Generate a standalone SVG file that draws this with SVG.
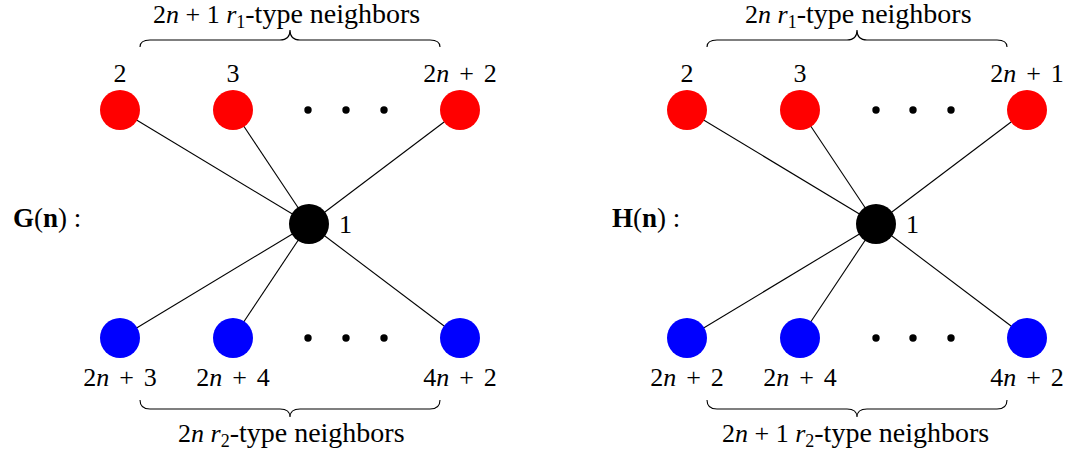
<svg xmlns="http://www.w3.org/2000/svg" width="1069" height="455" viewBox="0 0 1069 455">
<style>
text{font-family:"Liberation Serif","Times New Roman",serif;font-size:26px;fill:#000}
.t{font-size:28px}
.m{text-anchor:middle;word-spacing:3.5px}
.gl{font-size:27px}
.i{font-style:italic}
.b{font-weight:bold}
.sub{font-size:18px}
.edge{stroke:#000;stroke-width:1.1;fill:none}
.brace{stroke:#000;stroke-width:1.1;fill:none}
.red{fill:#ff0000}
.blue{fill:#0000ff}
.ctr{fill:#000}
.dot{fill:#000}
</style>
<rect width="1069" height="455" fill="#fff"/>
<g id="connectors">
<line class="edge" x1="309" y1="224" x2="120" y2="110"/>
<line class="edge" x1="309" y1="224" x2="233" y2="110"/>
<line class="edge" x1="309" y1="224" x2="460" y2="110"/>
<line class="edge" x1="309" y1="224" x2="120" y2="338"/>
<line class="edge" x1="309" y1="224" x2="233" y2="338"/>
<line class="edge" x1="309" y1="224" x2="460" y2="338"/>
<line class="edge" x1="876" y1="224" x2="687" y2="110"/>
<line class="edge" x1="876" y1="224" x2="800" y2="110"/>
<line class="edge" x1="876" y1="224" x2="1027" y2="110"/>
<line class="edge" x1="876" y1="224" x2="687" y2="338"/>
<line class="edge" x1="876" y1="224" x2="800" y2="338"/>
<line class="edge" x1="876" y1="224" x2="1027" y2="338"/>
</g>
<!-- Left graph G(n) -->
<g id="G-label"><text class="gl" x="13" y="227"><tspan class="b">G</tspan>(<tspan class="b">n</tspan>) :</text></g>
<g id="G-top-brace">
<path class="brace" d="M140,47 Q140,40 150,40 L280,40 Q290,40 290,30 Q290,40 300,40 L430,40 Q440,40 440,47"/>
<text x="153" y="23">2<tspan class="i">n</tspan> + 1 <tspan class="i">r</tspan><tspan class="sub" dy="5">1</tspan><tspan class="t" dy="-5">-type neighbors</tspan></text>
</g>
<g id="G-bottom-brace">
<path class="brace" d="M140,400 Q140,409 150,409 L280,409 Q290,409 290,417 Q290,409 300,409 L430,409 Q440,409 440,400"/>
<text x="178" y="442">2<tspan class="i">n</tspan> <tspan class="i">r</tspan><tspan class="sub" dy="5">2</tspan><tspan class="t" dy="-5">-type neighbors</tspan></text>
</g>
<g id="G-n1"><circle class="ctr" cx="309" cy="224" r="20"/><text x="339" y="233">1</text></g>
<g id="G-n2"><circle class="red" cx="120" cy="110" r="20"/><text class="m" x="120" y="82">2</text></g>
<g id="G-n3"><circle class="red" cx="233" cy="110" r="20"/><text class="m" x="233" y="82">3</text></g>
<g id="G-n2n2"><circle class="red" cx="460" cy="110" r="20"/><text class="m" x="460" y="82">2<tspan class="i">n</tspan> + 2</text></g>
<g id="G-top-dots"><circle class="dot" cx="308" cy="110" r="3.7"/><circle class="dot" cx="346" cy="110" r="3.7"/><circle class="dot" cx="384" cy="110" r="3.7"/></g>
<g id="G-n2n3"><circle class="blue" cx="120" cy="338" r="20"/><text class="m" x="120" y="386">2<tspan class="i">n</tspan> + 3</text></g>
<g id="G-n2n4"><circle class="blue" cx="233" cy="338" r="20"/><text class="m" x="233" y="386">2<tspan class="i">n</tspan> + 4</text></g>
<g id="G-n4n2"><circle class="blue" cx="460" cy="338" r="20"/><text class="m" x="460" y="386">4<tspan class="i">n</tspan> + 2</text></g>
<g id="G-bottom-dots"><circle class="dot" cx="308" cy="338" r="3.7"/><circle class="dot" cx="346" cy="338" r="3.7"/><circle class="dot" cx="384" cy="338" r="3.7"/></g>
<!-- Right graph H(n) -->
<g id="H-label"><text class="gl" x="612" y="227"><tspan class="b">H</tspan>(<tspan class="b">n</tspan>) :</text></g>
<g id="H-top-brace">
<path class="brace" d="M707,47 Q707,40 717,40 L847,40 Q857,40 857,30 Q857,40 867,40 L997,40 Q1007,40 1007,47"/>
<text x="745" y="23">2<tspan class="i">n</tspan> <tspan class="i">r</tspan><tspan class="sub" dy="5">1</tspan><tspan class="t" dy="-5">-type neighbors</tspan></text>
</g>
<g id="H-bottom-brace">
<path class="brace" d="M707,400 Q707,409 717,409 L847,409 Q857,409 857,417 Q857,409 867,409 L997,409 Q1007,409 1007,400"/>
<text x="722" y="442">2<tspan class="i">n</tspan> + 1 <tspan class="i">r</tspan><tspan class="sub" dy="5">2</tspan><tspan class="t" dy="-5">-type neighbors</tspan></text>
</g>
<g id="H-n1"><circle class="ctr" cx="876" cy="224" r="20"/><text x="906" y="233">1</text></g>
<g id="H-n2"><circle class="red" cx="687" cy="110" r="20"/><text class="m" x="687" y="82">2</text></g>
<g id="H-n3"><circle class="red" cx="800" cy="110" r="20"/><text class="m" x="800" y="82">3</text></g>
<g id="H-n2n1"><circle class="red" cx="1027" cy="110" r="20"/><text class="m" x="1027" y="82">2<tspan class="i">n</tspan> + 1</text></g>
<g id="H-top-dots"><circle class="dot" cx="876" cy="110" r="3.7"/><circle class="dot" cx="913" cy="110" r="3.7"/><circle class="dot" cx="951" cy="110" r="3.7"/></g>
<g id="H-n2n2"><circle class="blue" cx="687" cy="338" r="20"/><text class="m" x="687" y="386">2<tspan class="i">n</tspan> + 2</text></g>
<g id="H-n2n4"><circle class="blue" cx="800" cy="338" r="20"/><text class="m" x="800" y="386">2<tspan class="i">n</tspan> + 4</text></g>
<g id="H-n4n2"><circle class="blue" cx="1027" cy="338" r="20"/><text class="m" x="1027" y="386">4<tspan class="i">n</tspan> + 2</text></g>
<g id="H-bottom-dots"><circle class="dot" cx="876" cy="338" r="3.7"/><circle class="dot" cx="913" cy="338" r="3.7"/><circle class="dot" cx="951" cy="338" r="3.7"/></g>
</svg>
